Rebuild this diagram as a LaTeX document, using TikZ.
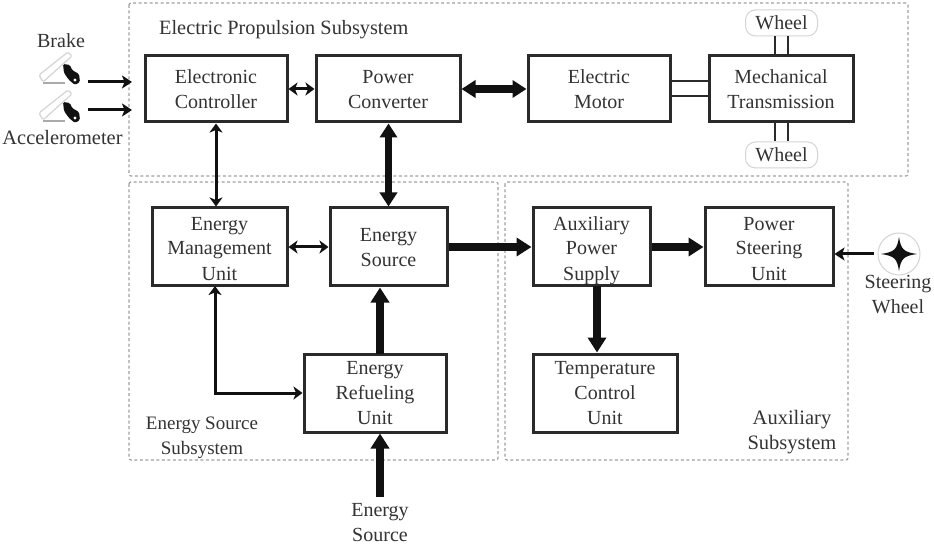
\documentclass[tikz,border=0pt]{standalone}
\usepackage{fontspec}
\setmainfont{Liberation Serif}
\usetikzlibrary{arrows.meta,calc}
\definecolor{ink}{HTML}{111111}
\definecolor{boxline}{HTML}{2A2A2A}
\definecolor{txt}{HTML}{333333}
\definecolor{dash}{HTML}{A0A0A0}
\definecolor{pale}{HTML}{D4D4D4}
\newcommand{\topstrut}{\rule[-5pt]{0pt}{25pt}}
\newcommand{\midstrut}{\rule[-4.5pt]{0pt}{25pt}}
\newcommand{\botstrut}{\rule[-6.5pt]{0pt}{25pt}}
\tikzset{
  blockbox/.style={draw=boxline,line width=3pt,fill=white,inner sep=0pt,align=center,text=txt,font=\fontsize{20}{25}\selectfont},
  label/.style={text=txt,align=center,inner sep=0pt,font=\fontsize{20}{25}\selectfont},
  sublabel/.style={text=txt,align=center,inner sep=0pt,font=\fontsize{19}{25}\selectfont},
  region/.style={draw=dash,line width=1.2pt,dash pattern=on 3pt off 2.5pt,rounded corners=2pt},
  thin2/.style={draw=ink,line width=3pt,{Stealth[length=9pt,width=13pt,inset=2.5pt]}-{Stealth[length=9pt,width=13pt,inset=2.5pt]}},
  thick2/.style={draw=ink,line width=7.5pt,{Stealth[length=14pt,width=17pt,inset=0pt]}-{Stealth[length=14pt,width=17pt,inset=0pt]}},
  thin1/.style={draw=ink,line width=3pt,-{Stealth[length=10pt,width=13pt,inset=2.5pt]}},
  heavy/.style={draw=ink,line width=8.5pt,-{Stealth[length=15pt,width=18pt,inset=0pt]}},
  shaft/.style={draw=boxline,line width=2pt},
  wheelbox/.style={draw=pale,line width=1pt,rounded corners=10pt,fill=white,text=txt,minimum width=72pt,minimum height=26pt,inner sep=0pt,font=\fontsize{20}{25}\selectfont},
}
\newcommand{\pedal}[2]{%
  \draw[pale,line width=1.2pt,line join=round,rounded corners=1.5pt] (#1+0,#2-7) -- (#1+29,#2-30) -- (#1+33,#2-26) -- (#1+4,#2+0) -- cycle;
  \draw[pale!80!black,line width=1.4pt] (#1+4,#2+1) -- (#1+26,#2+1);
  \fill[ink,rounded corners=1.5pt] (#1+24,#2-18) -- (#1+31,#2-17) -- (#1+33,#2-12) -- (#1+40,#2-8) -- (#1+41,#2+0) -- (#1+36,#2+3) -- (#1+30,#2-2) -- (#1+25,#2-9) -- cycle;
  \fill[white] (#1+36,#2-2) circle (1.7pt);
}
\begin{document}
\begin{tikzpicture}[x=1pt,y=-1pt]
\useasboundingbox (0,0) rectangle (934,545);
\fill[white] (0,0) rectangle (934,545);

% subsystem regions
\draw[region] (129,3) rectangle (908,176);
\draw[region] (129,182) rectangle (498,460);
\draw[region] (505,182) rectangle (848,460);

% blocks
\node[blockbox,minimum width=142pt,minimum height=66pt] (ec) at (216,89) {\topstrut Electronic\\Controller\topstrut};
\node[blockbox,minimum width=144pt,minimum height=66pt] (pc) at (388,89) {\topstrut Power\\Converter\topstrut};
\node[blockbox,minimum width=142pt,minimum height=66pt] (em) at (599,89) {\topstrut Electric\\Motor\topstrut};
\node[blockbox,minimum width=144pt,minimum height=66pt] (mt) at (781,89) {\topstrut Mechanical\\Transmission\topstrut};
\node[blockbox,minimum width=135pt,minimum height=78pt] (emu) at (219.5,247) {\midstrut Energy\\Management\\Unit\midstrut};
\node[blockbox,minimum width=117pt,minimum height=78pt] (es) at (388.5,247) {\topstrut Energy\\Source\topstrut};
\node[blockbox,minimum width=117pt,minimum height=78pt] (aps) at (591.5,247) {\midstrut Auxiliary\\Power\\Supply\midstrut};
\node[blockbox,minimum width=128pt,minimum height=78pt] (psu) at (769,247) {\midstrut Power\\Steering\\Unit\midstrut};
\node[blockbox,minimum width=142pt,minimum height=78pt] (eru) at (375,393) {\botstrut Energy\\Refueling\\Unit\botstrut};
\node[blockbox,minimum width=144pt,minimum height=78pt] (tcu) at (605,393) {\botstrut Temperature\\Control\\Unit\botstrut};

% wheels
\node[wheelbox] (wt) at (781.5,23) {Wheel};
\node[wheelbox] (wb) at (781.5,155) {Wheel};

% region labels
\node[sublabel,anchor=west,font=\fontsize{20.3}{25}\selectfont] (lep) at (159,30) {Electric Propulsion Subsystem};
\node[sublabel] (les) at (202,438) {Energy Source\\Subsystem};
\node[sublabel,font=\fontsize{20.5}{25}\selectfont] (las) at (792,432.5) {Auxiliary\\Subsystem};

% outside labels
\node[sublabel,font=\fontsize{20}{25}\selectfont] (lb) at (61,41) {Brake};
\node[label,font=\fontsize{20.4}{25}\selectfont] (la) at (62.5,138) {Accelerometer};
\node[label] (lsrc) at (380,523) {Energy\\Source};
\node[label] (lsw) at (898,295) {Steering\\Wheel};

% pedals
\pedal{39}{82}
\pedal{39}{120}
\coordinate (bk) at (88,82);
\coordinate (ac) at (88,110);
\coordinate (bkin) at (132,82);
\coordinate (acin) at (132,110);
\draw[thin1] (bk) -- (bkin);
\draw[thin1] (ac) -- (acin);

% steering wheel
\node[circle,draw=pale,line width=1pt,minimum size=42pt,inner sep=0pt] (sw) at (899,254) {};
\fill[ink] (899,237) .. controls (901,249) and (903,252) .. (917,254) .. controls (903,256) and (901,259) .. (899,271) .. controls (897,259) and (895,256) .. (881,254) .. controls (895,252) and (897,249) .. (899,237) -- cycle;
\draw[thin1] (874,254) -- (psu.east |- sw.west);

% shafts
\draw[shaft] ($(em.east)+(0,-7.5)$) -- ($(mt.west)+(0,-7.5)$);
\draw[shaft] ($(em.east)+(0,7)$) -- ($(mt.west)+(0,7)$);
\draw[shaft] ($(wt.south)+(-6.5,0)$) -- ($(mt.north)+(-6,0)$);
\draw[shaft] ($(wt.south)+(6.5,0)$) -- ($(mt.north)+(7,0)$);
\draw[shaft] ($(mt.south)+(-6,0)$) -- ($(wb.north)+(-6.5,0)$);
\draw[shaft] ($(mt.south)+(7,0)$) -- ($(wb.north)+(6.5,0)$);

% connectors
\draw[thin2] (ec) -- (pc);
\draw[thick2] (pc) -- (em);
\draw[thin2] (ec.south) -- (ec.south |- emu.north);
\draw[thick2] (pc.south -| es.north) -- (es.north);
\draw[thin2] (emu) -- (es);
\coordinate (emubot) at (215,286);
\draw[thin2] (emubot) |- (eru.west);
\draw[heavy] (es.east) -- (aps.west);
\draw[heavy] (aps.east) -- (psu.west);
\coordinate (apsbot) at (597,286);
\draw[heavy] (apsbot) -- (apsbot |- tcu.north);
\coordinate (eruTop) at (380,354);
\draw[heavy] (eruTop) -- (eruTop |- es.south);
\coordinate (srcend) at (380,497);
\draw[heavy] (srcend) -- (srcend |- eru.south);
\end{tikzpicture}
\end{document}
